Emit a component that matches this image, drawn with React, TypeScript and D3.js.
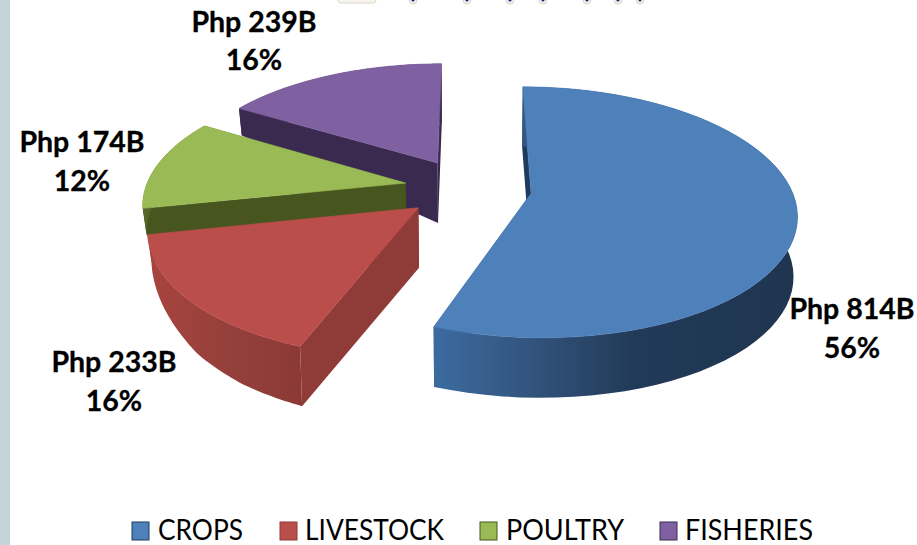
import React from 'react'
import * as d3 from 'd3'

const categories = ['CROPS', 'LIVESTOCK', 'POULTRY', 'FISHERIES']
const valuesB = [814, 233, 174, 239]

// Layout: label centres (two baselines each), legend boxes
const labelPos = [
  { x: 852, y1: 319, y2: 358 },
  { x: 114, y1: 372, y2: 411 },
  { x: 82, y1: 152, y2: 191 },
  { x: 254, y1: 32, y2: 70 },
]
const legendPos = [
  { box: 132, text: 158, w: 85 },
  { box: 280, text: 305, w: 139 },
  { box: 480, text: 506, w: 118 },
  { box: 660, text: 685, w: 128 },
]
const topFragments = [413, 467, 510, 543, 587, 618, 640]

const WIDTH = 917
const HEIGHT = 545

// Perspective model of the tilted disc, fitted to the picture
const cx = 468
const cy = 188
const rx = 260
const ry = 121
const persp = 0.15
const explode = 0.245

const color = d3.scaleOrdinal<string>().domain(categories).range(['#4e80ba', '#ba4e4b', '#9aba56', '#7f60a0'])
const wallColor = d3.scaleOrdinal<string>().domain(categories).range(['#1f3b5e', '#8f3b37', '#47561f', '#3a2a50'])
const rimStops: Record<string, [number, string][]> = {
  CROPS: [[0, '#3c6ba0'], [0.25, '#33557f'], [0.55, '#223a58'], [1, '#1f3550']],
  LIVESTOCK: [[0, '#a8443f'], [0.5, '#96403b'], [1, '#8c3935']],
  POULTRY: [[0, '#56682a'], [1, '#47561f']],
  FISHERIES: [[0, '#3a2a50'], [1, '#3a2a50']],
}

type Pt = [number, number]

const project = (u: number, v: number): Pt => {
  const d = 1 - persp * v
  return [cx + (rx * u) / d, cy + (ry * v) / d]
}

// Wall height shrinks towards the far left of the disc
const depthScale = d3.scaleLinear().domain([-1.1, -0.75, -0.55, -0.3]).range([27, 50, 56, 60]).clamp(true)

const lower = (u: number, v: number): Pt => {
  const [x, y] = project(u, v)
  return [cx + (x - cx) * 0.988, y + depthScale(u + 0.2 * v)]
}

const line = d3.line<Pt>()
const closed = (pts: Pt[]) => (line(pts) as string) + 'Z'

const pie = d3.pie<number>().sort(null).value(d => d)
const arcs = pie(valuesB)
const total = d3.sum(valuesB)
const pct = d3.format('.0%')

const slices = arcs.map((a, i) => {
  const mid = (a.startAngle + a.endAngle) / 2
  const ou = explode * Math.sin(mid)
  const ov = -explode * Math.cos(mid)
  const rim = d3.range(0, 61).map(k => {
    const t = a.startAngle + ((a.endAngle - a.startAngle) * k) / 60
    return [ou + Math.sin(t), ov - Math.cos(t)] as Pt
  })
  const first = rim[0]
  const last = rim[rim.length - 1]
  const apexTop = project(ou, ov)
  const apexLow = lower(ou, ov)
  const topRim = rim.map(p => project(p[0], p[1]))
  const lowRim = rim.map(p => lower(p[0], p[1]))
  return {
    name: categories[i],
    top: closed([apexTop, ...topRim]),
    rim: closed([...topRim, ...lowRim.slice().reverse()]),
    wallStart: closed([apexTop, project(first[0], first[1]), lower(first[0], first[1]), apexLow]),
    wallEnd: closed([apexTop, project(last[0], last[1]), lower(last[0], last[1]), apexLow]),
    x0: d3.min(topRim, p => p[0]) as number,
    x1: d3.max(topRim, p => p[0]) as number,
  }
})

// Painted back to front: fisheries, poultry, livestock, crops
const paintOrder = [3, 2, 1, 0]

const App: React.FC = () => {
  return (
    <svg
      width={WIDTH}
      height={HEIGHT}
      viewBox={`0 0 ${WIDTH} ${HEIGHT}`}
      style={{ position: 'absolute', left: 0, top: 0, background: '#fff' }}
    >
      <defs>
        {slices.map(s => (
          <linearGradient key={s.name} id={`rim-${s.name}`} gradientUnits="userSpaceOnUse" x1={s.name === 'CROPS' ? 435 : s.x0} x2={s.x1} y1={0} y2={0}>
            {rimStops[s.name].map(([o, c]) => (
              <stop key={o} offset={o} stopColor={c} />
            ))}
          </linearGradient>
        ))}
      </defs>

      {/* left page strip */}
      <rect x={0} y={0} width={10} height={HEIGHT} fill="#c6d3db" />

      {/* cut-off artwork along the top edge */}
      <rect x={338} y={-4} width={38} height={7} rx={3} fill="#f7f5ee" stroke="#d8d5ca" />
      {topFragments.map(x => (
        <g key={x}>
          <circle cx={x} cy={0} r={4} fill="#f4f4f0" stroke="#d5d5cd" />
          <circle cx={x} cy={0} r={1.6} fill="#1c2a6e" />
        </g>
      ))}

      {paintOrder.map(i => {
        const s = slices[i]
        return (
          <g key={s.name}>
            <path d={s.wallEnd} fill={wallColor(s.name)} />
            <path d={s.wallStart} fill={wallColor(s.name)} />
            <path d={s.rim} fill={`url(#rim-${s.name})`} />
            <path d={s.top} fill={color(s.name)} stroke={color(s.name)} strokeWidth={0.6} />
          </g>
        )
      })}

      {valuesB.map((v, i) => (
        <g key={categories[i]} fontFamily="Lato" fontWeight={700} fontSize={28.5} textAnchor="middle" fill="#000" stroke="#000" strokeWidth={0.3}>
          <text x={labelPos[i].x} y={labelPos[i].y1}>{`Php ${v}B`}</text>
          <text x={labelPos[i].x} y={labelPos[i].y2}>{pct(v / total)}</text>
        </g>
      ))}

      {categories.map((c, i) => (
        <g key={c}>
          <rect x={legendPos[i].box} y={522} width={17} height={18} fill={color(c)} stroke={wallColor(c)} strokeWidth={1} />
          <text
            x={legendPos[i].text}
            y={540}
            fontFamily="Lato"
            fontSize={28}
            fill="#000"
            textLength={legendPos[i].w}
            lengthAdjust="spacingAndGlyphs"
          >
            {c}
          </text>
        </g>
      ))}
    </svg>
  )
}

export default App
